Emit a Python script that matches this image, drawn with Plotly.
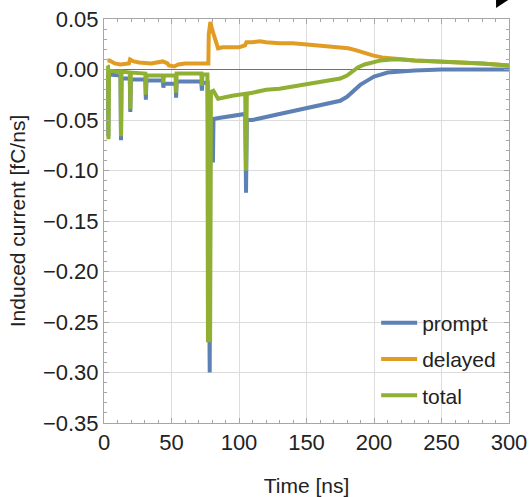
import plotly.graph_objects as go

# ---- data ----
prompt_t = [2.5, 2.9, 3.2, 3.5, 12.2, 12.6, 13.0, 19.1, 19.5, 19.9, 30.6, 31.0, 31.4,
            43.6, 44.0, 44.4, 53.0, 53.4, 53.8, 72.1, 72.5, 72.9, 76.8, 77.3, 78.3,
            78.8, 80.3, 80.7, 81.1, 85, 90, 95, 100, 104.6, 105.2, 105.8, 110, 115,
            120, 130, 140, 150, 160, 170, 175, 180, 185, 190, 195, 200, 205, 210,
            220, 230, 250, 275, 300]
prompt_v = [-0.004, -0.004, -0.066, -0.005, -0.006, -0.070, -0.009, -0.009, -0.042,
            -0.010, -0.010, -0.030, -0.011, -0.011, -0.018, -0.014, -0.014, -0.028,
            -0.012, -0.012, -0.021, -0.013, -0.013, -0.137, -0.300, -0.053, -0.053,
            -0.092, -0.049, -0.048, -0.047, -0.046, -0.045, -0.044, -0.122, -0.050,
            -0.050, -0.048, -0.047, -0.044, -0.041, -0.038, -0.036, -0.033, -0.031,
            -0.027, -0.021, -0.015, -0.011, -0.007, -0.005, -0.003, -0.002, -0.001,
            0.0, 0.0, 0.0]

delayed_t = [2.5, 4, 8, 12, 18.5, 19.3, 22, 26, 35, 40, 43.5, 47, 48, 52, 55, 60, 70,
             76.5, 77.3, 77.6, 78.8, 80, 82, 84.5, 88, 95, 100, 104.5, 105.5, 110,
             115.5, 120, 130, 140, 150, 160, 167, 175, 181, 187, 193, 199, 206, 214,
             220, 230, 240, 250, 265, 280, 300]
delayed_v = [0.009, 0.009, 0.006, 0.005, 0.006, 0.010, 0.008, 0.007, 0.006, 0.007,
             0.008, 0.006, 0.004, 0.003, 0.005, 0.006, 0.006, 0.006, 0.006, 0.035,
             0.047, 0.040, 0.030, 0.021, 0.022, 0.022, 0.022, 0.024, 0.027, 0.027,
             0.028, 0.027, 0.026, 0.026, 0.025, 0.024, 0.023, 0.022, 0.021, 0.019,
             0.016, 0.014, 0.012, 0.011, 0.010, 0.009, 0.0085, 0.008, 0.007, 0.006,
             0.004]

total_t = [2.5, 3.0, 3.3, 3.7, 8, 12.2, 12.6, 13.0, 19.1, 19.5, 19.9, 30.6, 31.0, 31.4,
           43.6, 44.0, 44.4, 53.0, 53.4, 53.8, 72.1, 72.5, 72.9, 76.6, 77.0, 78.6,
           79.2, 81, 84.5, 90, 95, 100, 104.6, 105.2, 105.8, 110, 115, 120, 130, 140,
           150, 160, 170, 175, 180, 184, 188, 193, 198, 205, 213, 220, 230, 240, 250,
           265, 280, 300]
total_v = [0.004, 0.003, -0.069, -0.001, -0.002, -0.002, -0.066, -0.002, -0.003,
           -0.039, -0.003, -0.004, -0.025, -0.006, -0.006, -0.013, -0.006, -0.006,
           -0.023, -0.004, -0.004, -0.016, -0.005, -0.005, -0.268, -0.268, -0.022,
           -0.021, -0.029, -0.027, -0.026, -0.025, -0.024, -0.100, -0.024, -0.023,
           -0.021, -0.020, -0.019, -0.017, -0.015, -0.013, -0.011, -0.009, -0.006,
           -0.002, 0.002, 0.005, 0.007, 0.009, 0.010, 0.010, 0.009, 0.0085, 0.008,
           0.007, 0.006, 0.004]

series_names = ["prompt", "delayed", "total"]
series_colors = ["#5E81B5", "#E19C24", "#8FB032"]

x_ticks = [0, 50, 100, 150, 200, 250, 300]
y_ticks = [0.05, 0.00, -0.05, -0.10, -0.15, -0.20, -0.25, -0.30, -0.35]

FONT = "Liberation Sans, Arial, sans-serif"

fig = go.Figure()
for name, color, t, v in zip(series_names, series_colors,
                             [prompt_t, delayed_t, total_t],
                             [prompt_v, delayed_v, total_v]):
    fig.add_trace(go.Scatter(x=t, y=v, mode="lines", name=name, legendgroup=name,
                             line=dict(color=color, width=4)))

axis_common = dict(
    showline=True, linecolor="#a6a6a6", linewidth=1, mirror="ticks",
    ticks="inside", ticklen=5, tickcolor="#a6a6a6", tickwidth=1,
    showgrid=True, gridcolor="#dcdcdc", gridwidth=1, automargin=False,
    tickfont=dict(family=FONT, size=22, color="#222222"),
)

fig.update_layout(
    width=530, height=497,
    margin=dict(l=104, r=21, t=19, b=74, autoexpand=False),
    paper_bgcolor="white", plot_bgcolor="white",
    font=dict(family=FONT, color="#222222"),
    xaxis=dict(range=[0, 300], tickvals=x_ticks, zeroline=False,
               minor=dict(dtick=10, ticks="inside", ticklen=3, tickcolor="#a6a6a6", showgrid=False),
               title=dict(text="Time [ns]", font=dict(family=FONT, size=21), standoff=24),
               **axis_common),
    yaxis=dict(range=[-0.35, 0.05], tickvals=y_ticks, tickformat=".2f",
               zeroline=True, zerolinecolor="#707070", zerolinewidth=1,
               minor=dict(dtick=0.01, ticks="inside", ticklen=3, tickcolor="#a6a6a6", showgrid=False),
               title=dict(text="Induced current [fC/ns]", font=dict(family=FONT, size=21), standoff=11),
               **axis_common),
    showlegend=True,
    legend=dict(x=0.672, y=0.298, xanchor="left", yanchor="top",
                bgcolor="rgba(0,0,0,0)", font=dict(family=FONT, size=21, color="#222222"),
                traceorder="grouped", tracegroupgap=6, itemwidth=36),
)

# small black corner mark seen at the top right of the reference
fig.add_shape(type="path", xref="paper", yref="paper",
              path="M 0.968 1.047 L 0.998 1.047 L 0.968 1.027 Z",
              fillcolor="black", line=dict(width=0))

fig.write_html("out.html", config={"displayModeBar": False},
               post_script="document.body.style.margin='0px';")
